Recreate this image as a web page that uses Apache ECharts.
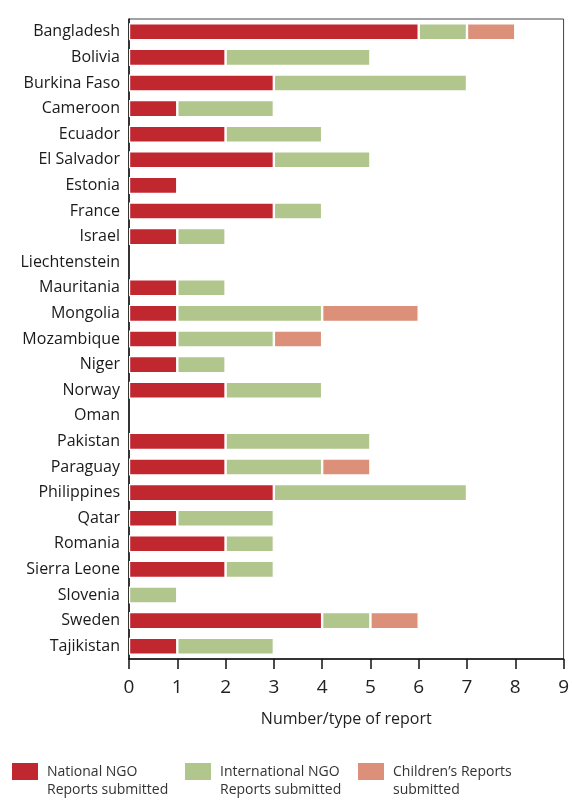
<!DOCTYPE html>
<html><head><meta charset="utf-8">
<script src="https://cdn.jsdelivr.net/npm/echarts@6/dist/echarts.min.js"></script>
<style>html,body{margin:0;padding:0;background:#fff}#c{width:572px;height:807px}</style>
</head><body><div id="c"></div>
<script>
var countries = ["Bangladesh","Bolivia","Burkina Faso","Cameroon","Ecuador","El Salvador","Estonia","France","Israel","Liechtenstein","Mauritania","Mongolia","Mozambique","Niger","Norway","Oman","Pakistan","Paraguay","Philippines","Qatar","Romania","Sierra Leone","Slovenia","Sweden","Tajikistan"];
var nationalNGO = [6,2,3,1,2,3,1,3,1,0,1,1,1,1,2,0,2,2,3,1,2,2,0,4,1];
var internationalNGO = [1,3,4,2,2,2,0,1,1,0,1,3,2,1,2,0,3,2,4,2,1,1,1,1,2];
var childrenReports = [1,0,0,0,0,0,0,0,0,0,0,2,1,0,0,0,0,1,0,0,0,0,0,1,0];
var xTicks = [0,1,2,3,4,5,6,7,8,9];
var seriesNames = ["National NGO\nReports submitted","International NGO\nReports submitted","Children\u2019s Reports\nsubmitted"];
var colors = ["#c1272f","#b0c68c","#dc8f79"];
var FONT = "'Open Sans', sans-serif";
function clean(a){return a.map(function(v){return v===0?'-':v;});}
var datas=[nationalNGO,internationalNGO,childrenReports];
var chart = echarts.init(document.getElementById('c'));
var ICON = 'path://M0,0H28V19H0Z M0,37.9H0.02V38H0Z';
var legends = [10,183,356].map(function(l,i){
  return {left:l, top:761, padding:0, orient:'horizontal', icon:ICON, itemWidth:28, itemHeight:38,
    data:[seriesNames[i]], selectedMode:false,
    textStyle:{fontFamily:FONT, fontSize:14, color:'#333', lineHeight:18, padding:[0,0,0,3]}};
});
chart.setOption({
  animation:false,
  color:colors,
  grid:{left:129, right:7, top:19, bottom:148, show:true, borderColor:'#444', borderWidth:1},
  legend:legends,
  xAxis:{type:'value', min:0, max:9, interval:1,
    axisLine:{show:true, lineStyle:{color:'#111', width:1.5}},
    axisTick:{show:true, length:10, inside:false, lineStyle:{color:'#111', width:1.5}},
    axisLabel:{fontFamily:FONT, fontSize:19, color:'#222', margin:19},
    splitLine:{show:false},
    name:'Number/type of report', nameLocation:'middle', nameGap:52,
    nameTextStyle:{fontFamily:FONT, fontSize:16, color:'#222'}},
  yAxis:{type:'category', data:countries, inverse:true,
    axisLine:{show:true, lineStyle:{color:'#111', width:1.5}},
    axisTick:{show:false},
    axisLabel:{fontFamily:FONT, fontSize:16, color:'#1a1a1a', margin:9}},
  series:datas.map(function(d,i){
    return {name:seriesNames[i], type:'bar', stack:'t', barWidth:17, data:clean(d),
      itemStyle:{color:colors[i], borderColor:'#fff', borderWidth:1.2}};
  })
});
</script></body></html>
